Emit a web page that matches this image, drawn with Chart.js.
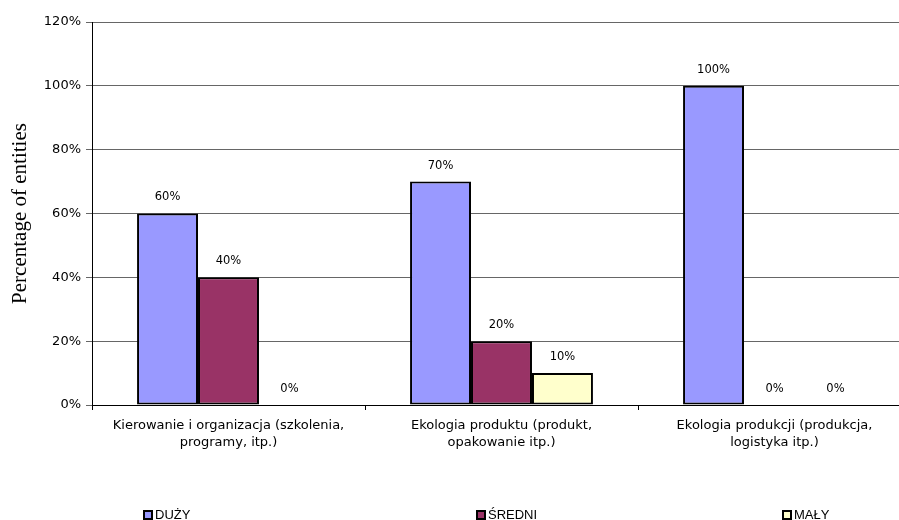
<!DOCTYPE html>
<html lang="pl">
<head>
<meta charset="UTF-8" />
<title>Percentage of entities</title>
<script src="https://cdn.jsdelivr.net/npm/chart.js"></script>
<style>
  html, body { margin: 0; padding: 0; background: #fff; overflow: hidden; }
  .wrap { position: relative; width: 920px; height: 520px; }
  .legend { position: absolute; top: 507px; font: 13px "Liberation Sans", Arial, sans-serif; color: #000; white-space: nowrap; }
  .legend span.box { display: inline-block; width: 6px; height: 6px; border: 2px solid #000; margin-right: 2px; vertical-align: -1px; }
</style>
</head>
<body>
<div class="wrap">
  <canvas id="chart" width="920" height="520"></canvas>
  <div class="legend" style="left:143px"><span class="box" style="background:#9999FF"></span>DUŻY</div>
  <div class="legend" style="left:476px"><span class="box" style="background:#993366"></span>ŚREDNI</div>
  <div class="legend" style="left:782px"><span class="box" style="background:#FFFFCC"></span>MAŁY</div>
</div>
<script>
  const categories = [
    ['Kierowanie i organizacja (szkolenia,', 'programy, itp.)'],
    ['Ekologia produktu (produkt,', 'opakowanie itp.)'],
    ['Ekologia produkcji (produkcja,', 'logistyka itp.)']
  ];
  const duzy = [60, 70, 100];
  const sredni = [40, 20, 0];
  const maly = [0, 10, 0];

  // etykiety nad słupkami
  const valueLabels = {
    id: 'valueLabels',
    afterDatasetsDraw(chart) {
      const c = chart.ctx;
      c.save();
      c.font = '11.5px "DejaVu Sans", sans-serif';
      c.fillStyle = '#000';
      c.textAlign = 'center';
      c.textBaseline = 'middle';
      chart.data.datasets.forEach((ds, i) => {
        chart.getDatasetMeta(i).data.forEach((bar, j) => {
          c.fillText(ds.data[j] + '%', bar.x, bar.y - 16);
        });
      });
      c.restore();
    }
  };

  new Chart(document.getElementById('chart'), {
    type: 'bar',
    data: {
      labels: categories,
      datasets: [
        { label: 'DUŻY', data: duzy, backgroundColor: '#9999FF' },
        { label: 'ŚREDNI', data: sredni, backgroundColor: '#993366' },
        { label: 'MAŁY', data: maly, backgroundColor: '#FFFFCC' }
      ]
    },
    options: {
      responsive: false,
      animation: false,
      devicePixelRatio: 1,
      layout: { padding: { left: 0, top: 22, right: 9, bottom: 0 } },
      datasets: {
        bar: { categoryPercentage: 0.67, barPercentage: 1, borderColor: '#000', borderWidth: 2, borderSkipped: false }
      },
      plugins: {
        legend: { display: false },
        tooltip: { enabled: false }
      },
      scales: {
        x: {
          afterFit(s) { s.height = 115; },
          grid: { offset: true, drawOnChartArea: false, drawTicks: true, tickLength: 5, color: '#000' },
          border: { color: '#000', width: 1 },
          ticks: { color: '#000', font: { family: '"DejaVu Sans", sans-serif', size: 13, lineHeight: 1.3 }, padding: 7, maxRotation: 0 }
        },
        y: {
          min: 0, max: 120,
          afterFit(s) { s.width = 92; },
          grid: { color: '#666', tickLength: 6 },
          border: { color: '#000', width: 1 },
          ticks: { stepSize: 20, color: '#000', font: { family: '"DejaVu Sans", sans-serif', size: 13 }, padding: 5, callback: v => v + '%' },
          title: { display: true, text: 'Percentage of entities', color: '#000', font: { family: '"Liberation Serif", "Times New Roman", serif', size: 21 }, padding: { top: 8, bottom: 0 } }
        }
      }
    },
    plugins: [valueLabels]
  });
</script>
</body>
</html>
